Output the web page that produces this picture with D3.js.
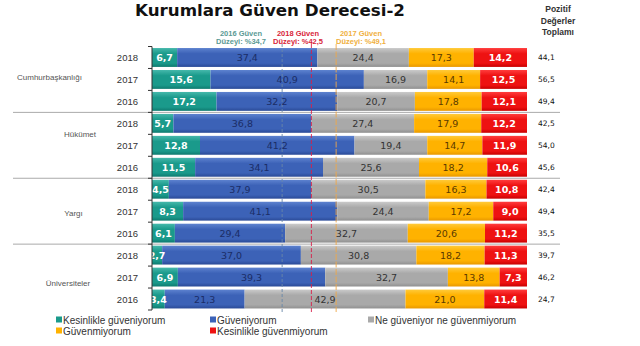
<!DOCTYPE html>
<html><head><meta charset="utf-8">
<script src="https://cdn.jsdelivr.net/npm/d3@7"></script>
<style>html,body{margin:0;padding:0;background:#fff;}svg{display:block;}</style>
</head><body>
<script>
const groups = ["Cumhurbaşkanlığı","Hükümet","Yargı","Üniversiteler"];
const years = ["2018","2017","2016"];
const seriesNames = ["Kesinlikle güveniyorum","Güveniyorum","Ne güveniyor  ne güvenmiyorum","Güvenmiyorum","Kesinlikle güvenmiyorum"];
const kesinlikleGuveniyorum = [6.7,15.6,17.2, 5.7,12.8,11.5, 4.5,8.3,6.1, 2.7,6.9,3.4];
const guveniyorum = [37.4,40.9,32.2, 36.8,41.2,34.1, 37.9,41.1,29.4, 37.0,39.3,21.3];
const neNe = [24.4,16.9,20.7, 27.4,19.4,25.6, 30.5,24.4,32.7, 30.8,32.7,42.9];
const guvenmiyorum = [17.3,14.1,17.8, 17.9,14.7,18.2, 16.3,17.2,20.6, 18.2,13.8,21.0];
const kesinlikleGuvenmiyorum = [14.2,12.5,12.1, 12.2,11.9,10.6, 10.8,9.0,11.2, 11.3,7.3,11.4];
const pozitifToplam = [44.1,56.5,49.4, 42.5,54.0,45.6, 42.4,49.4,35.5, 39.7,46.2,24.7];
const refLabels = ["2016 Güven","2018 Güven","2017 Güven"];
const refValues = [34.7,42.5,49.1];

const W=640,H=346;
const svg=d3.select("body").append("svg").attr("width",W).attr("height",H);
const defs=svg.append("defs");
const colors=[
 {main:"#1a9a8b",light:"#45b8ab",dark:"#0e7a6f",text:"#ffffff",bold:true},
 {main:"#3c62b7",light:"#5d82cf",dark:"#2a4a97",text:"#1b2d66",bold:false},
 {main:"#a9a9a9",light:"#cacaca",dark:"#909090",text:"#333333",bold:false},
 {main:"#ffb200",light:"#ffca3a",dark:"#e89800",text:"#5a3a00",bold:false},
 {main:"#ee1212",light:"#ff3d3d",dark:"#c80000",text:"#ffffff",bold:true}];
colors.forEach((c,i)=>{
  const g=defs.append("linearGradient").attr("id","g"+i).attr("x1",0).attr("y1",0).attr("x2",0).attr("y2",1);
  g.append("stop").attr("offset","0").attr("stop-color",c.light);
  g.append("stop").attr("offset","0.3").attr("stop-color",c.main);
  g.append("stop").attr("offset","0.8").attr("stop-color",c.main);
  g.append("stop").attr("offset","1").attr("stop-color",c.dark);
});

const rows=[];
groups.forEach((g,gi)=>years.forEach((y,yi)=>rows.push({g:gi,year:y,i:gi*3+yi})));
const seriesVals=[kesinlikleGuveniyorum,guveniyorum,neNe,guvenmiyorum,kesinlikleGuvenmiyorum];

const x=d3.scaleLinear().domain([0,100]).range([152,527]);
const yb=d3.scaleBand().domain(rows.map(r=>r.i)).range([46.5,310]).paddingInner(0.14).paddingOuter(0.07);
const step=yb.step();
const top0=46.5;
const fmt=v=>d3.format(".1f")(v).replace(".",",");

// title
svg.append("text").attr("x",270).attr("y",16).attr("text-anchor","middle")
 .attr("font-family","DejaVu Sans").attr("font-weight","bold").attr("font-size",16.7).attr("fill","#111")
 .text("Kurumlara Güven Derecesi-2");

// right header
["Pozitif","Değerler","Toplamı"].forEach((t,i)=>svg.append("text").attr("x",558).attr("y",12+i*11.5)
 .attr("text-anchor","middle").attr("font-family","Liberation Sans").attr("font-weight","bold").attr("font-size",8.5).attr("fill","#333").text(t));

// reference headers
const refColors=["#5a9a94","#d81e3a","#f0b040"];
const refCenters=[241,298,361];
refLabels.forEach((t,i)=>{
  const tx=svg.append("text").attr("text-anchor","middle").attr("font-family","Liberation Sans").attr("font-weight","bold").attr("font-size",7.5).attr("fill",refColors[i]);
  tx.append("tspan").attr("x",refCenters[i]).attr("y",36).text(t);
  tx.append("tspan").attr("x",refCenters[i]).attr("y",43.5).text("Düzeyi: %"+fmt(refValues[i]));
});

// group separators
for(let k=1;k<groups.length;k++){
  const yy=top0+step*3*k;
  svg.append("line").attr("x1",13).attr("x2",560).attr("y1",yy).attr("y2",yy).attr("stroke","#aaa").attr("stroke-width",1);
}

// bars
rows.forEach(r=>{
  let acc=0;
  seriesVals.forEach((arr,si)=>{
    const v=arr[r.i];
    svg.append("rect").attr("x",x(acc)).attr("y",yb(r.i)).attr("width",x(acc+v)-x(acc)).attr("height",yb.bandwidth())
      .attr("fill","url(#g"+si+")");
    acc+=v;
  });
});

// reference lines
const refLineColors=["#6a88aa","#d8204a","#f0a84a"];
const refDash=["3,2","4,2","6,1.5"];
refValues.forEach((v,i)=>{
  svg.append("line").attr("x1",x(v)).attr("x2",x(v)).attr("y1",44).attr("y2",312)
   .attr("stroke",refLineColors[i]).attr("stroke-width",1).attr("stroke-dasharray",refDash[i]).attr("opacity",0.9);
});

// bar labels
rows.forEach(r=>{
  let acc=0;
  seriesVals.forEach((arr,si)=>{
    const v=arr[r.i];
    const c=colors[si];
    svg.append("text").attr("x",(x(acc)+x(acc+v))/2).attr("y",yb(r.i)+yb.bandwidth()/2+3.5)
     .attr("text-anchor","middle").attr("font-family","DejaVu Sans").attr("font-size",9.5)
     .attr("font-weight",c.bold?"bold":"normal").attr("fill",c.text).text(fmt(v));
    acc+=v;
  });
});

// axis
const axisG=svg.append("g");
axisG.append("line").attr("x1",152).attr("x2",152).attr("y1",top0).attr("y2",top0+step*rows.length).attr("stroke","#333").attr("stroke-width",1);
for(let k=0;k<=rows.length;k++){
  const yy=top0+step*k;
  axisG.append("line").attr("x1",148).attr("x2",152).attr("y1",yy).attr("y2",yy).attr("stroke","#333");
}

// year labels and positive totals
rows.forEach(r=>{
  svg.append("text").attr("x",138).attr("y",yb(r.i)+yb.bandwidth()/2+3.5).attr("text-anchor","end")
   .attr("font-family","Liberation Sans").attr("font-size",9.5).attr("fill","#333").text(r.year);
  svg.append("text").attr("x",538).attr("y",yb(r.i)+yb.bandwidth()/2+2.5).attr("text-anchor","start")
   .attr("font-family","DejaVu Sans").attr("font-size",7.5).attr("fill","#111").text(fmt(pozitifToplam[r.i]));
});

// group labels
const groupLabelX=[49.5,80,73.5,68];
const groupLabelDy=[-2.7,-11.3,1.8,6];
groups.forEach((g,gi)=>{
  const cy=top0+step*(gi*3+1.5)+groupLabelDy[gi];
  svg.append("text").attr("x",groupLabelX[gi]).attr("y",cy+2.8).attr("text-anchor","middle")
   .attr("font-family","Liberation Sans").attr("font-size",8).attr("fill","#555").text(g);
});

// legend
const legPos=[[56,320],[210,320],[368,320],[56,331],[210,331]];
seriesNames.forEach((n,i)=>{
  const [lx,ly]=legPos[i];
  svg.append("rect").attr("x",lx).attr("y",ly-3.5).attr("width",6).attr("height",6).attr("fill",colors[i].main);
  svg.append("text").attr("x",lx+7).attr("y",ly+3.5).attr("font-family","Liberation Sans").attr("font-size",10).attr("fill","#333").text(n);
});
</script>
</body></html>
